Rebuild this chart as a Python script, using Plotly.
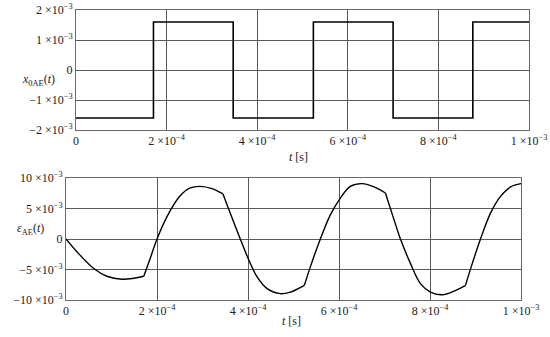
import plotly.graph_objects as go

# ---- data (time in units of 1e-3 s, amplitudes in units of 1e-3) ----
sq_t = [0.0, 0.171, 0.347, 0.524, 0.700, 0.876, 1.0]
sq_v = [-1.6, 1.6, -1.6, 1.6, -1.6, 1.6, 1.6]

err_t = [0.000, 0.024, 0.061, 0.090, 0.123, 0.149, 0.171,
         0.185, 0.200, 0.222, 0.250, 0.273, 0.295, 0.321, 0.345,
         0.361, 0.383, 0.402, 0.420, 0.442, 0.471, 0.493, 0.524,
         0.537, 0.559, 0.581, 0.603, 0.625, 0.651, 0.677, 0.702,
         0.721, 0.735, 0.757, 0.779, 0.801, 0.827, 0.853, 0.878,
         0.893, 0.911, 0.933, 0.955, 0.977, 1.000]
err_v = [0.00, -2.10, -4.84, -6.11, -6.60, -6.44, -6.11,
         -3.19, 0.00, 3.68, 7.00, 8.37, 8.63, 8.25, 7.38,
         4.24, 0.00, -3.47, -6.22, -8.14, -8.96, -8.70, -7.59,
         -4.57, 0.00, 3.96, 6.71, 8.63, 9.08, 8.53, 7.54,
         3.14, 0.00, -4.00, -7.31, -8.70, -9.13, -8.53, -7.59,
         -4.00, 0.00, 4.24, 6.98, 8.53, 9.08]
kink_t = [0.171, 0.345, 0.524, 0.702, 0.878]

x_ticks = [0, 0.2, 0.4, 0.6, 0.8, 1.0]
x_ticklabels = ["0", "2 ×10<sup>−4</sup>", "4 ×10<sup>−4</sup>", "6 ×10<sup>−4</sup>",
                "8 ×10<sup>−4</sup>", "1 ×10<sup>−3</sup>"]
y1_ticks = [-2, -1, 0, 1, 2]
y1_ticklabels = ["−2 ×10<sup>−3</sup>", "−1 ×10<sup>−3</sup>", "0",
                 "1 ×10<sup>−3</sup>", "2 ×10<sup>−3</sup>"]
y2_ticks = [-10, -5, 0, 5, 10]
y2_ticklabels = ["−10 ×10<sup>−3</sup>", "−5 ×10<sup>−3</sup>", "0",
                 "5 ×10<sup>−3</sup>", "10 ×10<sup>−3</sup>"]

W, H = 550, 337
def px(x): return x / W
def py(y): return 1 - y / H

FONT = "Liberation Serif"
GRID = "#5a5a5a"

fig = go.Figure()
fig.add_trace(go.Scatter(x=sq_t, y=sq_v, mode="lines", line_shape="hv",
                         line=dict(color="black", width=1.6),
                         xaxis="x", yaxis="y", showlegend=False))

# split error curve at kinks so corners stay sharp
breaks = [0] + [err_t.index(k) for k in kink_t] + [len(err_t) - 1]
for a, b in zip(breaks[:-1], breaks[1:]):
    fig.add_trace(go.Scatter(x=err_t[a:b + 1], y=err_v[a:b + 1], mode="lines",
                             line=dict(color="black", width=1.4, shape="spline", smoothing=1.0),
                             xaxis="x2", yaxis="y2", showlegend=False))

axis_common = dict(showgrid=True, gridcolor=GRID, gridwidth=1, showline=True,
                   linecolor="#6a6a6a", linewidth=1, mirror=True, zeroline=False,
                   ticks="", automargin=False, ticklabeloverflow="allow",
                   tickfont=dict(family=FONT, size=12, color="#222"))

fig.update_layout(
    width=W, height=H, margin=dict(l=0, r=0, t=0, b=0),
    paper_bgcolor="white", plot_bgcolor="white",
    font=dict(family=FONT),
    xaxis=dict(domain=[px(76), px(529)], range=[0, 1], tickvals=x_ticks,
               ticktext=x_ticklabels, anchor="y", **axis_common),
    yaxis=dict(domain=[py(130), py(10)], range=[-2, 2], tickvals=y1_ticks,
               ticktext=y1_ticklabels, anchor="x", **axis_common),
    xaxis2=dict(domain=[px(66), px(521)], range=[0, 1], tickvals=x_ticks,
                ticktext=x_ticklabels, anchor="y2", **axis_common),
    yaxis2=dict(domain=[py(300), py(178)], range=[-10, 10], tickvals=y2_ticks,
                ticktext=y2_ticklabels, anchor="x2", **axis_common),
)

ann_font = dict(family=FONT, size=12, color="#222")
fig.add_annotation(x=px(20), y=py(70), xref="paper", yref="paper", showarrow=False,
                   text="<i>x</i><sub>0AE</sub>(<i>t</i>)", font=ann_font)
fig.add_annotation(x=px(15), y=py(239), xref="paper", yref="paper", showarrow=False,
                   text="<i>ε</i><sub>AE</sub>(<i>t</i>)", font=ann_font)
fig.add_annotation(x=px(298), y=py(157), xref="paper", yref="paper", showarrow=False,
                   text="<i>t</i> [s]", font=ann_font)
fig.add_annotation(x=px(291), y=py(330), xref="paper", yref="paper", showarrow=False,
                   text="<i>t</i> [s]", font=ann_font)

fig.write_html("out.html", config={"displayModeBar": False},
               post_script="document.body.style.margin='0';document.body.style.overflow='hidden';")
